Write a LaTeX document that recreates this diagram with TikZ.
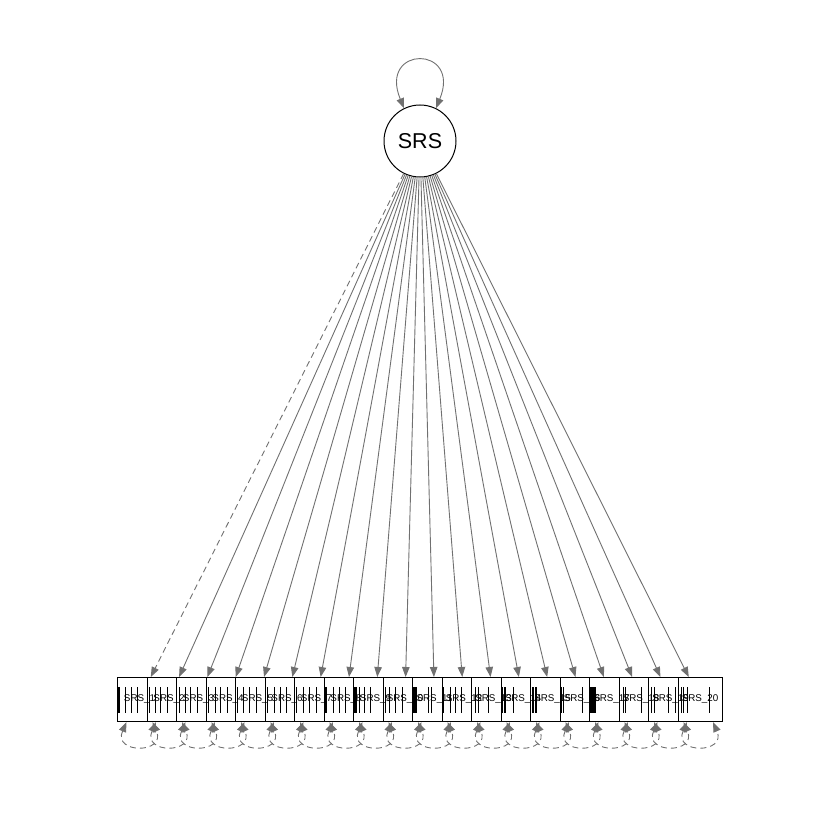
\documentclass[tikz,border=0pt]{standalone}
\usepackage{fontspec}
\setmainfont{Liberation Sans}
\usetikzlibrary{arrows.meta}
\definecolor{edgegray}{RGB}{112,112,112}
\newcommand\obsbox[3]{%
  \node[box] (b#1) at (#2,699.5) {};
  \foreach \o in {#3} {\draw[thr] (#2-22+\o,687) -- (#2-22+\o,713);}
}
\begin{document}
\begin{tikzpicture}[x=1pt,y=-1pt,
  box/.style={draw=black,fill=white,line width=1pt,minimum width=44pt,minimum height=44pt,inner sep=0pt},
  lbl/.style={inner sep=0pt,font=\fontsize{9.8}{9.8}\selectfont},
  latent/.style={circle,draw=black,fill=white,line width=1pt,minimum size=72pt,inner sep=0pt,font=\fontsize{21.5}{21.5}\selectfont},
  edge/.style={draw=edgegray,line width=0.9pt,-{Triangle[length=10pt,width=7.5pt]}},
  var/.style={draw=edgegray,line width=0.9pt,{Triangle[length=10pt,width=7.5pt]}-{Triangle[length=10pt,width=7.5pt]}},
  dash6/.style={dash pattern=on 6pt off 4pt},
  thr/.style={draw=black,line width=0.9pt}]
\useasboundingbox (0,0) rectangle (840,840);

\node[latent] (SRS) at (420,141) {SRS};
\draw[var] (SRS.116) .. controls (378,45) and (462,45) .. (SRS.64);

\obsbox{1}{139.5}{1,1.8,8,13.5,20}
\obsbox{2}{169}{2,8.5,13.5,20}
\obsbox{3}{198.5}{2.5,8.5,14,21}
\obsbox{4}{228}{2.5,9,14.5,21}
\obsbox{5}{257.5}{2,8,14,20.5}
\obsbox{6}{287}{2.5,9,15,21}
\obsbox{7}{316.5}{1.5,9,15,21.5}
\obsbox{8}{346}{1.2,2.4,9,15,21}
\obsbox{9}{375.5}{0.6,1.6,2.6,6,11,17}
\obsbox{10}{405}{2,6,12,19}
\obsbox{11}{434.5}{0.8,1.8,2.8,3.8,16,19}
\obsbox{12}{464}{0.8,1.8,8,13,19}
\obsbox{13}{493.5}{3.5,7,16.5}
\obsbox{14}{523}{1,3,4,12}
\obsbox{15}{552.5}{1.5,3,4.5,6}
\obsbox{16}{582}{1,3,22}
\obsbox{17}{611.5}{1,2,3,4,5,6}
\obsbox{18}{641}{4,6,22,29}
\obsbox{19}{670.5}{3,6,19.5,27}
\obsbox{20}{700}{3,5.5,9,31}

\foreach \i in {1,...,20} {\node[lbl] (t\i) at (b\i) {SRS\_\i};}

\draw[edge,dash6] (SRS) -- (b1);
\foreach \i in {2,...,20} {\draw[edge] (SRS) -- (b\i);}

\foreach \i in {1,...,20} {
  \draw[var,dash6] ([xshift=-13pt]b\i.south) .. controls +(-14,32) and +(14,32) .. ([xshift=13pt]b\i.south);
}
\end{tikzpicture}
\end{document}
